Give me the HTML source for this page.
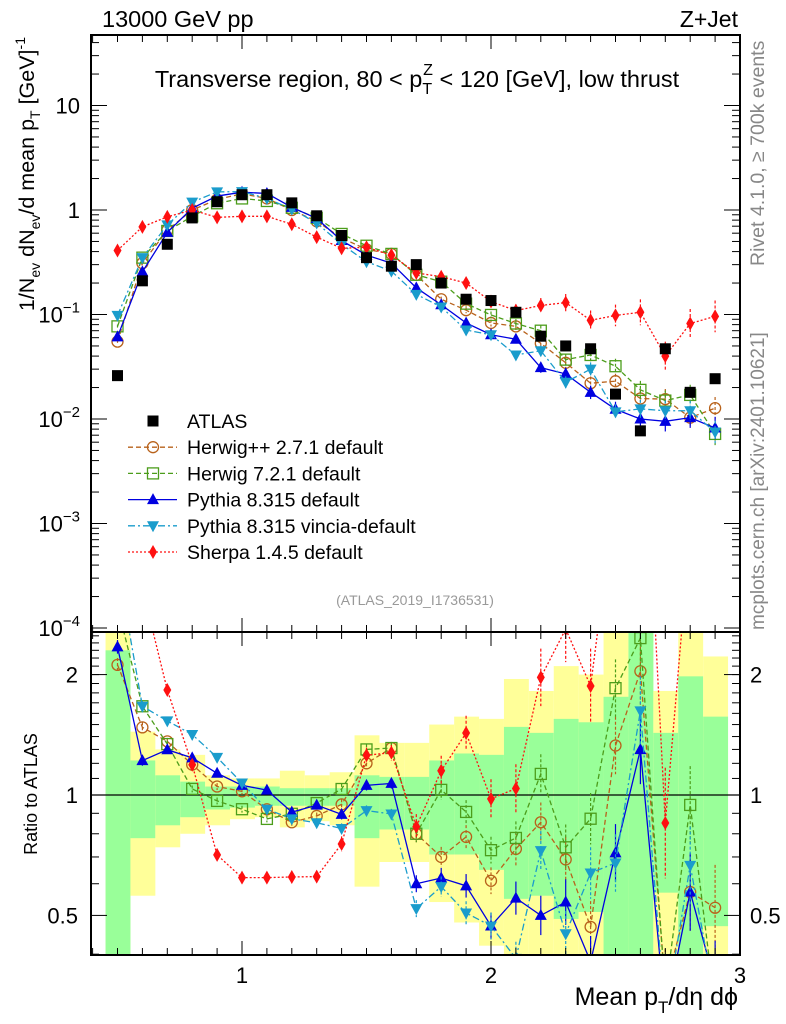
<!DOCTYPE html>
<html><head><meta charset="utf-8"><style>
html,body{margin:0;padding:0;background:#fff;overflow:hidden;width:786px;height:1024px;}
svg{display:block;}
svg text{font-family:"Liberation Sans",sans-serif;}
</style></head><body>
<svg id="c" width="786" height="1024" xmlns="http://www.w3.org/2000/svg">
<defs>
<clipPath id="cm"><rect x="91" y="35" width="649" height="597"/></clipPath>
<clipPath id="cr"><rect x="91" y="632" width="649" height="323"/></clipPath>
</defs>
<g id="bands" clip-path="url(#cr)"></g>
<g id="ratio" clip-path="url(#cr)"></g>
<g id="main" clip-path="url(#cm)"></g>
<g id="axes"></g>
<text x="102" y="27" font-size="23.5">13000 GeV pp</text>
<text x="738" y="27" font-size="23" text-anchor="end">Z+Jet</text>
<text x="417" y="87" font-size="23.5" text-anchor="middle">Transverse region, 80 &lt; p<tspan font-size="16" dy="7">T</tspan><tspan font-size="16" dx="-9" dy="-19">Z</tspan><tspan dy="12"> &lt; 120 [GeV], low thrust</tspan></text>
<text x="415" y="605" font-size="14" fill="#999" text-anchor="middle">(ATLAS_2019_I1736531)</text>
<text transform="translate(764,266) rotate(-90)" font-size="19.5" fill="#888">Rivet 4.1.0, ≥ 700k events</text>
<text transform="translate(764,630) rotate(-90)" font-size="19" fill="#888">mcplots.cern.ch [arXiv:2401.10621]</text>
<text transform="translate(34,37) rotate(-90)" font-size="21.5" text-anchor="end">1/N<tspan font-size="14" dy="6">ev</tspan><tspan dy="-6"> dN</tspan><tspan font-size="14" dy="6">ev</tspan><tspan dy="-6">/d mean p</tspan><tspan font-size="14" dy="6">T</tspan><tspan dy="-6"> [GeV]</tspan><tspan font-size="14" dy="-9">-1</tspan></text>
<text transform="translate(37,794) rotate(-90)" font-size="18" text-anchor="middle">Ratio to ATLAS</text>
<text x="738" y="1005" font-size="25" text-anchor="end">Mean p<tspan font-size="17" dy="8">T</tspan><tspan dy="-8">/dη dϕ</tspan></text>
<g id="legend"></g>
</svg>
<script>
const bins=[0.5,0.6,0.7,0.8,0.9,1.0,1.1,1.2,1.3,1.4,1.5,1.6,1.7,1.8,1.9,2.0,2.1,2.2,2.3,2.4,2.5,2.6,2.7,2.8,2.9];
const atlas=[0.026,0.21,0.47,0.84,1.2,1.4,1.4,1.17,0.88,0.57,0.35,0.29,0.30,0.20,0.14,0.136,0.105,0.062,0.05,0.047,0.0173,0.0077,0.047,0.018,0.0243];
const herwigpp=[0.055,0.31,0.64,1.0,1.26,1.43,1.29,1.0,0.78,0.54,0.42,0.38,0.24,0.14,0.11,0.083,0.077,0.053,0.0345,0.022,0.023,0.0157,0.0155,0.0103,0.0127];
const herwig7=[0.077,0.35,0.63,0.87,1.16,1.29,1.22,1.05,0.84,0.59,0.455,0.38,0.24,0.206,0.127,0.099,0.082,0.07,0.037,0.041,0.032,0.019,0.015,0.017,0.0072];
const pythia=[0.061,0.256,0.61,1.04,1.36,1.48,1.44,1.06,0.83,0.51,0.37,0.31,0.18,0.124,0.083,0.064,0.058,0.031,0.027,0.018,0.0124,0.010,0.0095,0.0103,0.0082];
const vincia=[0.098,0.35,0.72,1.19,1.49,1.5,1.29,1.02,0.75,0.47,0.32,0.26,0.156,0.118,0.071,0.064,0.041,0.045,0.0225,0.030,0.0117,0.0125,0.012,0.012,0.0075];
const sherpa=[0.41,0.69,0.86,1.0,0.85,0.87,0.87,0.73,0.55,0.43,0.44,0.37,0.25,0.23,0.2,0.133,0.109,0.122,0.13,0.088,0.098,0.105,0.04,0.082,0.096];
const modelErr=[0.04,0.03,0.02,0.02,0.02,0.02,0.02,0.02,0.02,0.03,0.03,0.03,0.05,0.06,0.07,0.08,0.1,0.12,0.14,0.16,0.18,0.22,0.25,0.25,0.28];
const greenHi=[2.3,1.22,1.12,1.08,1.05,1.05,1.05,1.04,1.04,1.04,1.12,1.11,1.11,1.22,1.27,1.26,1.48,1.43,1.55,1.52,1.76,2.6,1.43,1.98,1.57];
const greenLo=[0.3,0.78,0.84,0.88,0.92,0.93,0.94,0.94,0.94,0.94,0.78,0.82,0.82,0.71,0.71,0.65,0.55,0.56,0.49,0.51,0.3,0.3,0.57,0.3,0.47];
const yelHi=[2.8,1.44,1.30,1.26,1.12,1.10,1.10,1.15,1.12,1.14,1.41,1.35,1.35,1.50,1.57,1.55,1.95,1.82,2.1,2.0,2.6,2.8,1.82,2.8,2.22];
const yelLo=[0.3,0.56,0.74,0.80,0.84,0.87,0.88,0.83,0.86,0.84,0.59,0.68,0.68,0.54,0.48,0.42,0.3,0.3,0.3,0.3,0.3,0.3,0.3,0.3,0.3];
const xTicks=[1,2,3];
const yTicksMain=[-4,-3,-2,-1,0,1];
const yTicksRatio=[0.5,1,2];

const NS="http://www.w3.org/2000/svg";
const cl=(y,lo,hi)=>Math.max(lo,Math.min(hi,y));
const X=v=>242+249*(v-1);
const Y=v=>cl(210-104.5*Math.log10(v),5,1015);
const R=v=>cl(795-400*Math.log10(v),5,1015);
function el(tag,attrs,parent){const e=document.createElementNS(NS,tag);for(const k in attrs)e.setAttribute(k,attrs[k]);parent.appendChild(e);return e;}
const main=document.getElementById('main'),ratio=document.getElementById('ratio'),bandsG=document.getElementById('bands'),axes=document.getElementById('axes'),legend=document.getElementById('legend');

bins.forEach((b,i)=>{
  const x0=X(b-0.05)+0.5,x1=X(b+0.05)+0.5;
  const top=Math.max(R(yelHi[i]),632),bot=Math.min(R(yelLo[i]),955);
  const ry=el('rect',{x:x0,y:top,width:x1-x0,height:bot-top,fill:'#ffff99'},bandsG);
  
  
  const gt=Math.max(R(greenHi[i]),632),gb=Math.min(R(greenLo[i]),955);
  const rg=el('rect',{x:x0,y:gt,width:x1-x0,height:gb-gt,fill:'#99ff99'},bandsG);
  
  
});
const one=el('line',{x1:91,x2:740,y1:R(1),y2:R(1),stroke:'#000','stroke-width':1.2},bandsG);



function marker(g,type,x,y,color){
  let m;
  if(type==='sq') m=el('rect',{x:x-5.5,y:y-5.5,width:11,height:11,fill:'#000'},g);
  else if(type==='circ') m=el('circle',{cx:x,cy:y,r:5.5,fill:'none',stroke:color,'stroke-width':1.3},g);
  else if(type==='osq') m=el('rect',{x:x-5.5,y:y-5.5,width:11,height:11,fill:'none',stroke:color,'stroke-width':1.3},g);
  else if(type==='up') m=el('polygon',{points:`${x},${y-6.5} ${x-6},${y+4.5} ${x+6},${y+4.5}`,fill:color},g);
  else if(type==='down') m=el('polygon',{points:`${x},${y+6.5} ${x-6},${y-4.5} ${x+6},${y-4.5}`,fill:color},g);
  else m=el('polygon',{points:`${x},${y-7} ${x-4},${y} ${x},${y+7} ${x+4},${y}`,fill:color},g);
  return m;
}
const series=[
 {name:'herwigpp',label:'Herwig++ 2.7.1 default',vals:herwigpp,color:'#b8621b',dash:'5,3',m:'circ',ef:1},
 {name:'herwig7',label:'Herwig 7.2.1 default',vals:herwig7,color:'#4c9d1b',dash:'5,3',m:'osq',ef:1},
 {name:'pythia',label:'Pythia 8.315 default',vals:pythia,color:'#0000e0',dash:'',m:'up',ef:1},
 {name:'vincia',label:'Pythia 8.315 vincia-default',vals:vincia,color:'#1a9ccc',dash:'7,3,2,3',m:'down',ef:1},
 {name:'sherpa',label:'Sherpa 1.4.5 default',vals:sherpa,color:'#ff1010',dash:'2,2',m:'dia',ef:1.5}
];
series.forEach(s=>{
  [[main,(i)=>s.vals[i],Y],[ratio,(i)=>s.vals[i]/atlas[i],R]].forEach(([par,f,fy])=>{
    const g=el('g',{},par);
    
    
    const pts=bins.map((b,i)=>X(b)+','+fy(f(i))).join(' ');
    const pl=el('polyline',{points:pts,fill:'none',stroke:s.color,'stroke-width':1.3,'stroke-dasharray':s.dash},g);
    
    
    bins.forEach((b,i)=>{
      const v=f(i),e=modelErr[i]*s.ef;
      const x=X(b);
      const eb=el('line',{x1:x,x2:x,y1:fy(v*(1+e)),y2:fy(v/(1+e)),stroke:s.color,'stroke-width':1.2,'stroke-dasharray':s.dash?'3,2':''},g);
      
      
      const yy=fy(v);
      if(yy>5&&yy<1015){
        const mk=marker(g,s.m,x,yy,s.color);
        
        
      }
    });
  });
});
const ag=el('g',{},main);


bins.forEach((b,i)=>{
  const mk=marker(ag,'sq',X(b),Y(atlas[i]),'#000');
  
  
});

[[35,632],[632,955]].forEach(([t,b])=>{
  const f=el('rect',{x:91,y:t,width:649,height:b-t,fill:'none',stroke:'#000','stroke-width':2},axes);
  
  
  for(let k=4;k<=30;k++){
    const v=k/10,x=X(v),maj=(k%10===0),L=maj?14:7;
    el('line',{x1:x,x2:x,y1:b,y2:b-L,stroke:'#000','stroke-width':1},axes);
    el('line',{x1:x,x2:x,y1:t,y2:t+L,stroke:'#000','stroke-width':1},axes);
  }
});
xTicks.forEach(v=>{
  const t=el('text',{x:X(v),y:983,'font-size':22,'text-anchor':'middle'},axes);
  t.textContent=v;
  
  
});
for(let d=-4;d<=1;d++){
  for(let m=1;m<10;m++){
    const y=Y(m*Math.pow(10,d));
    if(y<35||y>632)continue;
    const L=m===1?16:8;
    el('line',{x1:91,x2:91+L,y1:y,y2:y,stroke:'#000'},axes);
    el('line',{x1:740,x2:740-L,y1:y,y2:y,stroke:'#000'},axes);
  }
}
yTicksMain.forEach(d=>{
  const y=Y(Math.pow(10,d));
  const t=el('text',{x:80,y:y+8,'font-size':22,'text-anchor':'end'},axes);
  if(d===0)t.textContent='1';
  else if(d===1)t.textContent='10';
  else{t.textContent='10';const s=el('tspan',{'font-size':15,dy:-10},t);s.textContent='\u2212'+String(-d);}
  
  
});
[0.4,0.5,0.6,0.7,0.8,0.9,1,2].forEach(v=>{
  const y=R(v),L=(v===0.5||v===1||v===2)?16:8;
  el('line',{x1:91,x2:91+L,y1:y,y2:y,stroke:'#000'},axes);
  el('line',{x1:740,x2:740-L,y1:y,y2:y,stroke:'#000'},axes);
});
for(let v=1.1;v<2.6;v+=0.1){const y=R(v);el('line',{x1:91,x2:99,y1:y,y2:y,stroke:'#000'},axes);el('line',{x1:740,x2:732,y1:y,y2:y,stroke:'#000'},axes);}
yTicksRatio.forEach(v=>{
  const t=el('text',{x:78,y:R(v)+8,'font-size':22,'text-anchor':'end'},axes);
  t.textContent=v;
  
  
  const t2=el('text',{x:750,y:R(v)+8,'font-size':22},axes);
  t2.textContent=v;
  
  
});
const rows=[{label:'ATLAS',m:'sq',color:'#000',dash:null}].concat(series);
rows.forEach((s,i)=>{
  const y=421+i*26.2;
  const g=el('g',{},legend);
  
  
  if(s.dash!==null) el('line',{x1:128,x2:177,y1:y,y2:y,stroke:s.color,'stroke-width':1.3,'stroke-dasharray':s.dash},g);
  marker(g,s.m,153,y,s.color);
  const t=el('text',{x:187,y:y+7,'font-size':19.5},g);
  t.textContent=s.label;
});
</script>
</body></html>
